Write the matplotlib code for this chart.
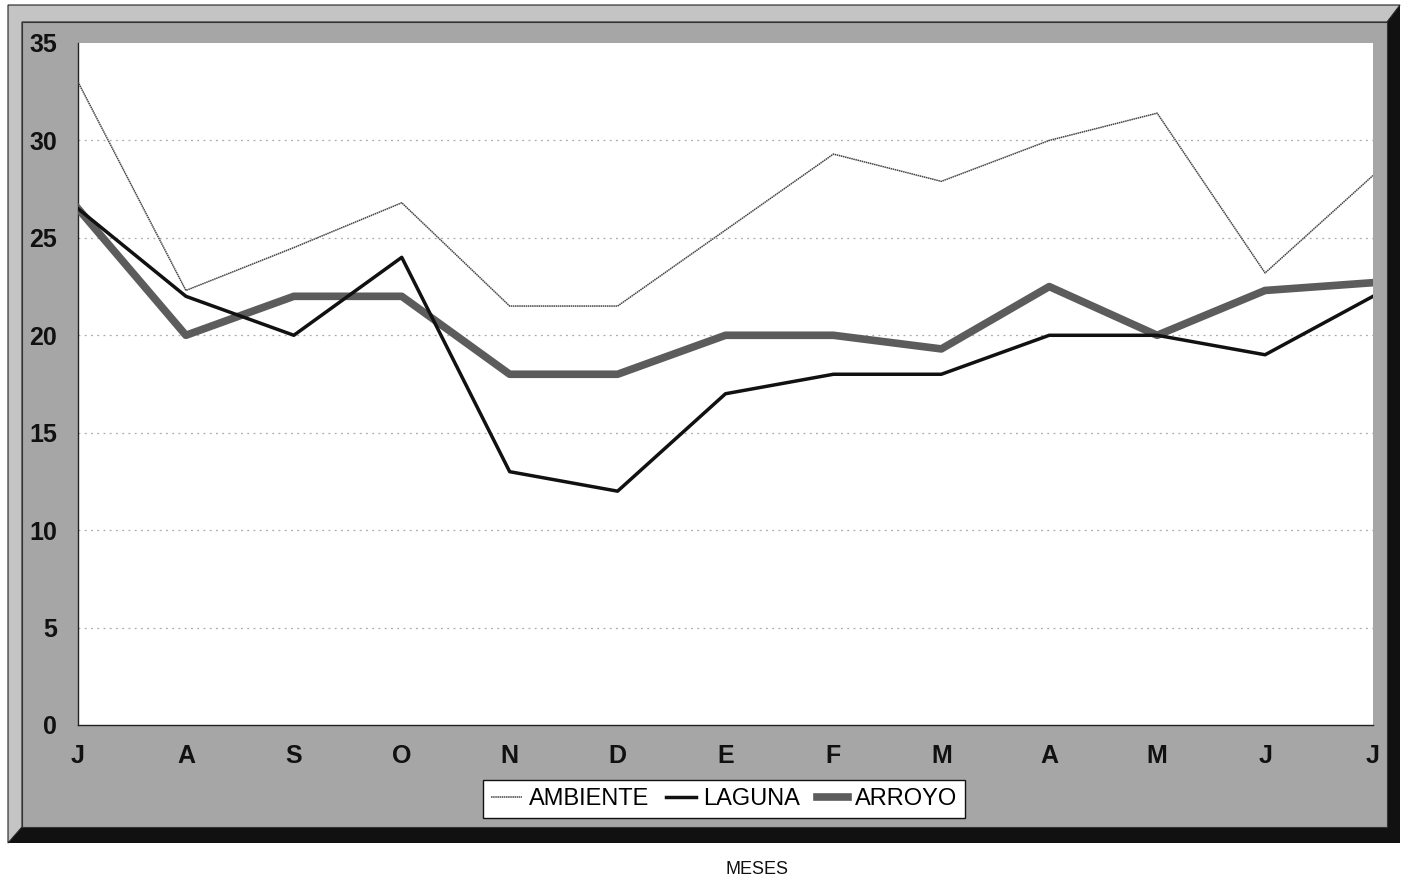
import matplotlib.pyplot as plt
from matplotlib.patches import Polygon, Rectangle

# monthly temperatures, July to July
meses = ['J', 'A', 'S', 'O', 'N', 'D', 'E', 'F', 'M', 'A', 'M', 'J', 'J']
ambiente = [33.0, 22.3, 24.5, 26.8, 21.5, 21.5, 25.4, 29.3, 27.9, 30.0, 31.4, 23.2, 28.2]
laguna = [26.5, 22.0, 20.0, 24.0, 13.0, 12.0, 17.0, 18.0, 18.0, 20.0, 20.0, 19.0, 22.0]
arroyo = [26.5, 20.0, 22.0, 22.0, 18.0, 18.0, 20.0, 20.0, 19.3, 22.5, 20.0, 22.3, 22.7]
y_ticks = [0, 5, 10, 15, 20, 25, 30, 35]

plt.rcParams['font.family'] = 'Liberation Sans'

W, H = 1407, 882
fig = plt.figure(figsize=(W / 100, H / 100), dpi=100)
fig.patch.set_facecolor('white')


def fx(px):
    return px / W


def fy(py):
    return 1 - py / H


# frame: gray face, light bevel top/left, black shadow right/bottom
x0, y0, x1, y1 = 8, 5, 1400, 843
ix0, iy0, ix1, iy1 = 22, 22, 1387, 827
shadow = Polygon([(fx(x1), fy(y0)), (fx(x1), fy(y1)), (fx(x0), fy(y1)),
                  (fx(ix0), fy(iy1)), (fx(ix1), fy(iy1)), (fx(ix1), fy(iy0))],
                 closed=True, transform=fig.transFigure, facecolor='#111111',
                 edgecolor='none', zorder=-3)
bevel = Polygon([(fx(x0), fy(y1)), (fx(x0), fy(y0)), (fx(x1), fy(y0)),
                 (fx(ix1), fy(iy0)), (fx(ix0), fy(iy0)), (fx(ix0), fy(iy1))],
                closed=True, transform=fig.transFigure, facecolor='#c4c4c4',
                edgecolor='#222222', linewidth=0.8, zorder=-3)
face = Rectangle((fx(ix0), fy(iy1)), fx(ix1 - ix0), (iy1 - iy0) / H,
                 transform=fig.transFigure, facecolor='#a6a6a6',
                 edgecolor='#333333', linewidth=0.8, zorder=-2)
fig.patches.extend([shadow, bevel, face])

# plot area
ax = fig.add_axes([fx(78), fy(725), fx(1373 - 78), (725 - 43) / H])
ax.set_facecolor('white')
x = list(range(len(meses)))

ax.plot(x, ambiente, color='#444444', linewidth=1.1, linestyle=(0, (1, 0.4)),
        label='AMBIENTE', zorder=3)
ax.plot(x, laguna, color='#111111', linewidth=2.5, label='LAGUNA', zorder=4)
ax.plot(x, arroyo, color='#5c5c5c', linewidth=5.5, label='ARROYO',
        solid_joinstyle='round', zorder=3)

ax.set_xlim(0, len(meses) - 1)
ax.set_ylim(0, 35)
ax.set_xticks(x)
ax.set_xticklabels(meses)
ax.set_yticks(y_ticks)
ax.tick_params(length=0, labelsize=18, colors='#111111')
ax.tick_params(axis='y', pad=15)
ax.tick_params(axis='x', pad=14)
for lbl in ax.get_xticklabels() + ax.get_yticklabels():
    lbl.set_fontweight('bold')

for v in y_ticks[1:-1]:
    ax.axhline(v, color='#aaaaaa', linewidth=0.9, linestyle=(0, (1.5, 3.5)), zorder=1)

for side in ['top', 'right']:
    ax.spines[side].set_visible(False)
ax.spines['left'].set_color('#222222')
ax.spines['bottom'].set_color('#222222')
ax.spines['left'].set_linewidth(1)
ax.spines['bottom'].set_linewidth(1)

leg = fig.legend(loc='center', bbox_to_anchor=(fx(724), fy(799)), ncol=3,
                 fontsize=17, frameon=True, fancybox=False, framealpha=1,
                 edgecolor='#111111', handlelength=1.3, handletextpad=0.3,
                 columnspacing=0.7, borderpad=0.35)
leg.get_frame().set_linewidth(1)

fig.text(fx(757), fy(870), 'MESES', ha='center', va='center', fontsize=13,
         color='#111111')

fig.savefig('out.png', dpi=100)
